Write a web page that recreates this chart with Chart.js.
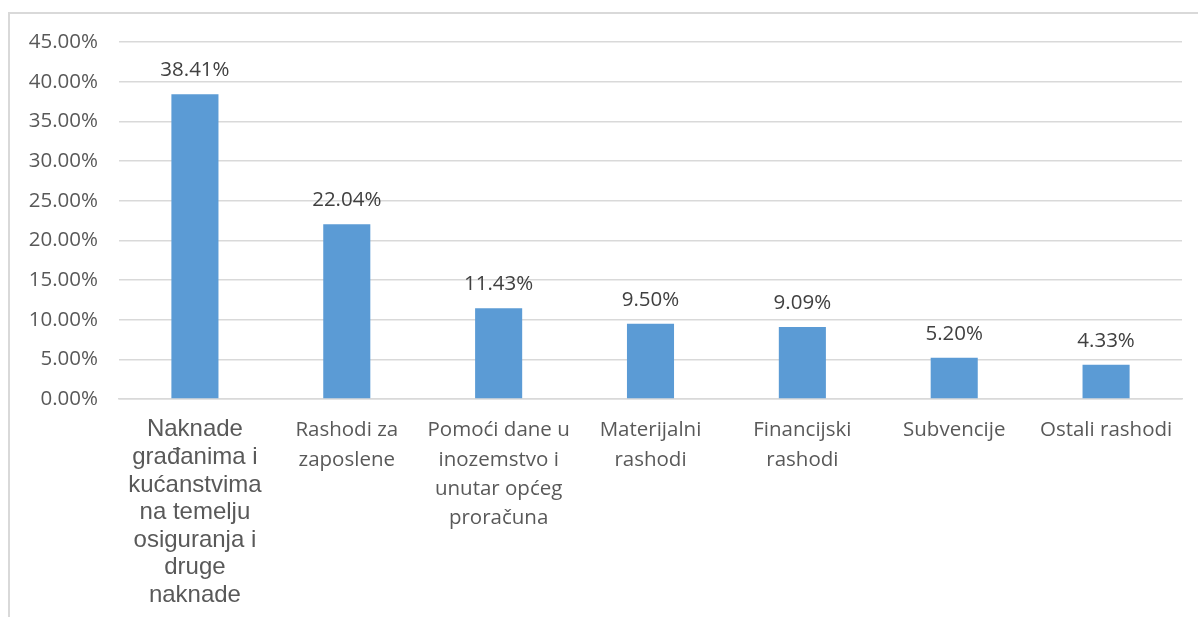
<!DOCTYPE html>
<html>
<head>
<meta charset="utf-8">
<script src="https://cdn.jsdelivr.net/npm/chart.js@4/dist/chart.umd.min.js"></script>
<style>
  html, body { margin: 0; padding: 0; background: #fff; }
  #wrap { position: relative; width: 1198px; height: 617px; }
  #frame { position: absolute; left: 8px; top: 12px; right: -10px; bottom: -10px;
           border-left: 2px solid #d9d9d9; border-top: 2px solid #d9d9d9; pointer-events: none; }
</style>
</head>
<body>
<div id="wrap">
  <canvas id="c"></canvas>
  <div id="frame"></div>
</div>
<script>
const categories = [
  ["Naknade", "građanima i", "kućanstvima", "na temelju", "osiguranja i", "druge", "naknade"],
  ["Rashodi za", "zaposlene"],
  ["Pomoći dane u", "inozemstvo i", "unutar općeg", "proračuna"],
  ["Materijalni", "rashodi"],
  ["Financijski", "rashodi"],
  ["Subvencije"],
  ["Ostali rashodi"]
];
const values = [38.41, 22.04, 11.43, 9.50, 9.09, 5.20, 4.33];
const yTicks = [0, 5, 10, 15, 20, 25, 30, 35, 40, 45];

const labelPlugin = {
  id: 'valueLabels',
  afterDatasetsDraw(chart) {
    const ctx = chart.ctx;
    const meta = chart.getDatasetMeta(0);
    ctx.save();
    ctx.font = '20.5px "Open Sans"';
    ctx.fillStyle = '#404040';
    ctx.textAlign = 'center';
    ctx.textBaseline = 'alphabetic';
    meta.data.forEach((bar, i) => {
      ctx.fillText(values[i].toFixed(2) + '%', bar.x, bar.y - 18);
    });
    ctx.restore();
  }
};

new Chart(document.getElementById('c'), {
  type: 'bar',
  data: {
    labels: categories,
    datasets: [{
      data: values,
      backgroundColor: '#5b9bd5',
      borderWidth: 0,
      categoryPercentage: 1,
      barPercentage: 0.31
    }]
  },
  options: {
    responsive: true,
    maintainAspectRatio: false,
    animation: false,
    layout: { padding: { left: 0, right: 16, top: 42, bottom: 0 } },
    plugins: { legend: { display: false }, tooltip: { enabled: false } },
    scales: {
      x: {
        grid: { display: false, drawTicks: false },
        border: { display: true, color: '#d9d9d9', width: 1.5 },
        ticks: {
          autoSkip: false,
          maxRotation: 0,
          padding: 17,
          color: '#595959',
          font: (ctx) => ctx.index === 0
            ? { family: '"Liberation Sans", Arial', size: 24, lineHeight: 1.15 }
            : { family: '"Open Sans"', size: 20.5, lineHeight: 1.42 }
        },
        afterFit(scale) { scale.height = 218; }
      },
      y: {
        min: 0, max: 45,
        afterBuildTicks(scale) { scale.ticks = yTicks.map(v => ({ value: v })); },
        grid: { color: '#d9d9d9', lineWidth: 1.5, drawTicks: false },
        border: { display: false },
        ticks: {
          padding: 21,
          color: '#595959',
          font: { family: '"Open Sans"', size: 20.5 },
          callback: (v) => Number(v).toFixed(2) + '%'
        },
        afterFit(scale) { scale.width = 119; }
      }
    }
  },
  plugins: [labelPlugin]
});
</script>
</body>
</html>
